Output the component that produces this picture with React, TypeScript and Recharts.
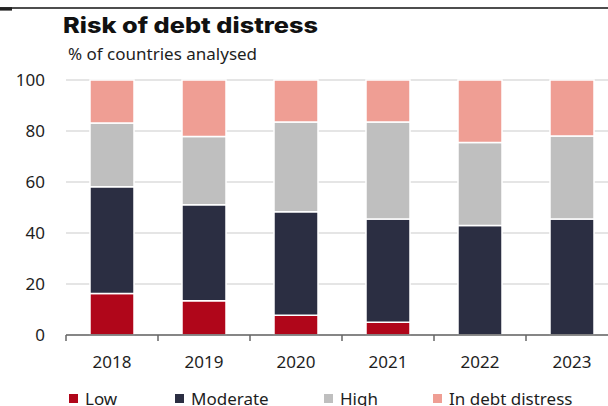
import { Bar, BarChart, CartesianGrid, XAxis, YAxis } from 'recharts'

const years = ['2018', '2019', '2020', '2021', '2022', '2023']
const low = [16.3, 13.4, 7.7, 5.0, 0, 0]
const moderate = [41.8, 37.7, 40.6, 40.5, 42.9, 45.5]
const high = [25.0, 26.7, 35.2, 38.0, 32.6, 32.5]
const distress = [16.9, 22.2, 16.5, 16.5, 24.5, 22.0]
const yTicks = [0, 20, 40, 60, 80, 100]

const seriesNames = ['Low', 'Moderate', 'High', 'In debt distress']
const seriesKeys = ['low', 'moderate', 'high', 'distress']
const seriesColors = ['#b0061a', '#2b2e42', '#bfbfbf', '#ef9e94']
// legend item left edges
const legendX = [69, 175, 324, 433]

const data = years.map((year, i) => ({
  year,
  low: low[i],
  moderate: moderate[i],
  high: high[i],
  distress: distress[i],
}))

const FONT = '"Noto Sans", sans-serif'
const TEXT = '#1e1e1e'
const TICK_SIZE = 6
const TICK_MARGIN = 15

function XTick(props: any) {
  const { x, y, payload, width, visibleTicksCount } = props
  const band = width && visibleTicksCount ? width / visibleTicksCount : 92
  const axisY = y - TICK_SIZE - TICK_MARGIN
  return (
    <g>
      <line
        x1={x - band / 2}
        x2={x - band / 2}
        y1={axisY}
        y2={axisY + TICK_SIZE}
        stroke="#666"
        strokeWidth={1.5}
      />
      <text x={x} y={y} dy="0.71em" textAnchor="middle" fontSize={17} fontFamily={FONT} fill={TEXT}>
        {payload.value}
      </text>
    </g>
  )
}

export default function App() {
  return (
    <div
      style={{
        position: 'fixed',
        left: 0,
        top: 0,
        width: 608,
        height: 406,
        overflow: 'hidden',
        background: '#fff',
        fontFamily: FONT,
      }}
    >
      <div style={{ position: 'absolute', left: 0, top: 0 }}>
        <BarChart
          width={630}
          height={380}
          data={data}
          margin={{ top: 80, right: 12, left: 0, bottom: 0 }}
        >
          <CartesianGrid vertical={false} stroke="#dcdcdc" strokeWidth={1.5} />
          <XAxis
            dataKey="year"
            height={45}
            axisLine={{ stroke: '#666', strokeWidth: 1.5 }}
            tickLine={false}
            tickSize={TICK_SIZE}
            tickMargin={TICK_MARGIN}
            tick={<XTick />}
            interval={0}
          />
          <YAxis
            width={66}
            domain={[0, 100]}
            ticks={yTicks}
            axisLine={false}
            tickLine={false}
            tickMargin={15}
            tick={{ fontSize: 17, fill: TEXT, fontFamily: FONT }}
          />
          {seriesKeys.map((key, i) => (
            <Bar
              key={key}
              dataKey={key}
              name={seriesNames[i]}
              stackId="a"
              fill={seriesColors[i]}
              stroke="#fff"
              strokeWidth={1.5}
              barSize={44}
              isAnimationActive={false}
            />
          ))}
        </BarChart>
      </div>
      <svg width={608} height={406} style={{ position: 'absolute', left: 0, top: 0, pointerEvents: 'none' }}>
        <rect x={0} y={7.2} width={608} height={1.6} fill="#222" />
        <rect x={0} y={7.2} width={12} height={3.4} fill="#222" />
        <text
          x={63}
          y={33}
          fontSize={21}
          fontWeight={800}
          fontFamily='Inter, "Noto Sans", sans-serif'
          fill="#111"
          textLength={255}
          lengthAdjust="spacingAndGlyphs"
        >
          Risk of debt distress
        </text>
        <text x={68} y={60} fontSize={17} fontFamily={FONT} fill={TEXT}>
          % of countries analysed
        </text>
        {seriesNames.map((name, i) => (
          <g key={name}>
            <rect x={legendX[i]} y={394} width={9} height={9} fill={seriesColors[i]} />
            <text x={legendX[i] + 16} y={405} fontSize={17} fontFamily={FONT} fill={TEXT}>
              {name}
            </text>
          </g>
        ))}
      </svg>
    </div>
  )
}
